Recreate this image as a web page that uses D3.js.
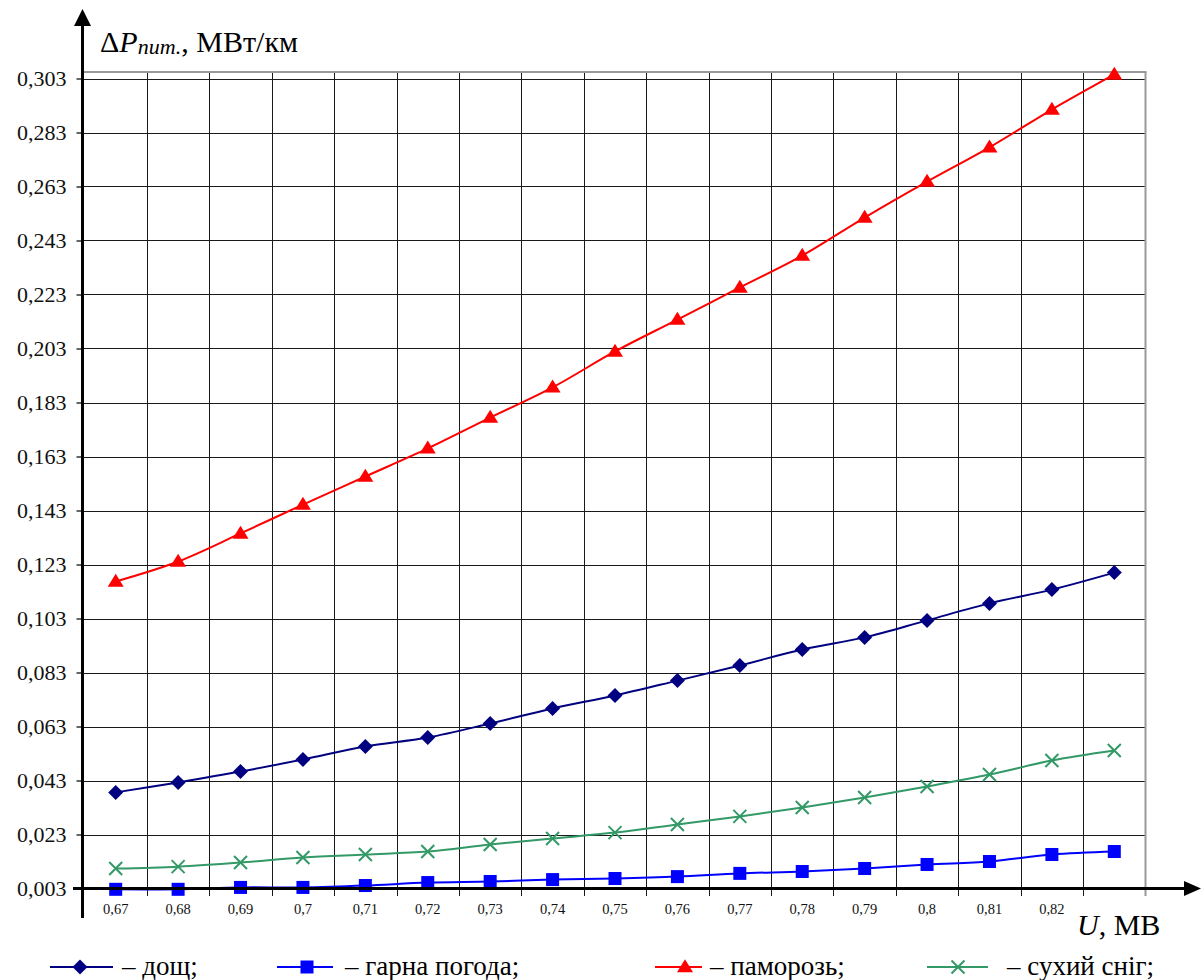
<!DOCTYPE html>
<html>
<head>
<meta charset="utf-8">
<script src="https://cdn.jsdelivr.net/npm/d3@7"></script>
<style>
  html, body { margin: 0; padding: 0; background: #fff; }
  svg { display: block; }
  svg text { font-family: "Times New Roman", Times, "Liberation Serif", Tinos, "Noto Serif", "DejaVu Serif", FreeSerif, serif !important; }
</style>
</head>
<body>
<svg id="chart" width="1201" height="980"></svg>
<script>
// Line voltage, MV (category axis)
const voltage = [0.67, 0.68, 0.69, 0.70, 0.71, 0.72, 0.73, 0.74, 0.75, 0.76, 0.77, 0.78, 0.79, 0.80, 0.81, 0.82, 0.83];
const xTickLabels = ["0,67", "0,68", "0,69", "0,7", "0,71", "0,72", "0,73", "0,74", "0,75", "0,76", "0,77", "0,78", "0,79", "0,8", "0,81", "0,82"];

// Value axis ticks, MW/km
const yTicks = [0.003, 0.023, 0.043, 0.063, 0.083, 0.103, 0.123, 0.143, 0.163, 0.183, 0.203, 0.223, 0.243, 0.263, 0.283, 0.303];
const yTickLabels = ["0,003", "0,023", "0,043", "0,063", "0,083", "0,103", "0,123", "0,143", "0,163", "0,183", "0,203", "0,223", "0,243", "0,263", "0,283", "0,303"];

// Specific corona losses per weather condition, MW/km
const rain = [0.0386, 0.0423, 0.0463, 0.0508, 0.0556, 0.0589, 0.0641, 0.0697, 0.0745, 0.0800, 0.0856, 0.0915, 0.0960, 0.1023, 0.1086, 0.1137, 0.1200];
const fairWeather = [0.0027, 0.0027, 0.0034, 0.0034, 0.0041, 0.0052, 0.0056, 0.0063, 0.0067, 0.0074, 0.0086, 0.0093, 0.0104, 0.0119, 0.0130, 0.0156, 0.0167];
const hoarFrost = [0.1167, 0.1241, 0.1345, 0.1452, 0.1556, 0.1660, 0.1774, 0.1886, 0.2019, 0.2137, 0.2256, 0.2374, 0.2515, 0.2648, 0.2775, 0.2915, 0.3045];
const drySnow = [0.0104, 0.0111, 0.0126, 0.0145, 0.0156, 0.0167, 0.0193, 0.0215, 0.0237, 0.0267, 0.0297, 0.0330, 0.0367, 0.0408, 0.0452, 0.0504, 0.0541];

const seriesNames = ["– дощ;", "– гарна погода;", "– паморозь;", "– сухий сніг;"];

const series = [
  { name: seriesNames[0], values: rain,        color: "#000080", marker: "diamond" },
  { name: seriesNames[1], values: fairWeather, color: "#0000ff", marker: "square" },
  { name: seriesNames[2], values: hoarFrost,   color: "#ff0000", marker: "triangle" },
  { name: seriesNames[3], values: drySnow,     color: "#339966", marker: "cross" }
];

const serif = "'Times New Roman', Times, 'Liberation Serif', Tinos, 'Noto Serif', 'DejaVu Serif', FreeSerif, serif";
const svg = d3.select("#chart").attr("font-family", serif);

// Plot frame
const plot = { left: 84.5, right: 1145.5, top: 72, bottom: 888.5 };
const axisX = 82.5;

const x = d3.scaleBand().domain(voltage).range([plot.left, plot.right]).padding(0);
const y = d3.scaleLinear().domain([0.003, 0.303]).range([888.5, 78.5]);

// Grid
const grid = svg.append("g");
grid.selectAll("line.h")
  .data(yTicks.slice(1))
  .join("line")
  .attr("x1", axisX).attr("x2", plot.right)
  .attr("y1", d => Math.round(y(d)) + 0.5).attr("y2", d => Math.round(y(d)) + 0.5)
  .attr("stroke", "#1a1a1a").attr("stroke-width", 1);

const boundaries = voltage.map((v, i) => plot.left + (i + 1) * x.step());
grid.selectAll("line.v")
  .data(boundaries.slice(0, -1))
  .join("line")
  .attr("x1", d => Math.round(d) + 0.5).attr("x2", d => Math.round(d) + 0.5)
  .attr("y1", plot.top).attr("y2", 896)
  .attr("stroke", "#1a1a1a").attr("stroke-width", 1);

// Grey outer frame (top and right)
grid.append("line")
  .attr("x1", axisX).attr("x2", plot.right + 1)
  .attr("y1", plot.top).attr("y2", plot.top)
  .attr("stroke", "#999").attr("stroke-width", 2);
grid.append("line")
  .attr("x1", plot.right).attr("x2", plot.right)
  .attr("y1", plot.top).attr("y2", 896)
  .attr("stroke", "#999").attr("stroke-width", 2);

// Markers
function drawMarker(g, type, color, cx, cy, scale = 1) {
  if (type === "diamond") {
    const r = 7.5 * scale;
    g.append("path")
      .attr("d", `M${cx},${cy - r}L${cx + r},${cy}L${cx},${cy + r}L${cx - r},${cy}Z`)
      .attr("fill", color);
  } else if (type === "square") {
    const s = 13 * scale;
    g.append("rect")
      .attr("x", cx - s / 2).attr("y", cy - s / 2)
      .attr("width", s).attr("height", s)
      .attr("fill", color);
  } else if (type === "triangle") {
    const w = 16 * scale, h = 13 * scale;
    g.append("path")
      .attr("d", `M${cx},${cy - h * 0.6}L${cx + w / 2},${cy + h * 0.4}L${cx - w / 2},${cy + h * 0.4}Z`)
      .attr("fill", color);
  } else if (type === "cross") {
    const r = 6.5 * scale;
    g.append("path")
      .attr("d", `M${cx - r},${cy - r}L${cx + r},${cy + r}M${cx - r},${cy + r}L${cx + r},${cy - r}`)
      .attr("stroke", color).attr("stroke-width", 2).attr("fill", "none");
  }
}

// Series lines and markers
const line = d3.line()
  .x((d, i) => x(voltage[i]) + x.bandwidth() / 2)
  .y(d => y(d))
  .curve(d3.curveCardinal.tension(0));

const seriesG = svg.append("g");
series.forEach(s => {
  seriesG.append("path")
    .datum(s.values)
    .attr("d", line)
    .attr("fill", "none")
    .attr("stroke", s.color)
    .attr("stroke-width", 2);
});
series.forEach(s => {
  const g = seriesG.append("g");
  s.values.forEach((v, i) => {
    drawMarker(g, s.marker, s.color, x(voltage[i]) + x.bandwidth() / 2, y(v));
  });
});

// Y axis: ticks and labels
const yAxis = d3.axisLeft(y)
  .tickValues(yTicks)
  .tickFormat((d, i) => yTickLabels[i])
  .tickSize(6)
  .tickPadding(10);
const yAxisG = svg.append("g")
  .attr("transform", `translate(${axisX},0)`)
  .call(yAxis)
  .attr("font-family", serif);
yAxisG.select(".domain").remove();
yAxisG.selectAll(".tick line").attr("stroke", "#000").attr("stroke-width", 1.2);
yAxisG.selectAll(".tick text")
  .attr("font-size", 22)
  .attr("fill", "#111");

// X axis: labels centred in categories
const xAxis = d3.axisBottom(x)
  .tickSize(0)
  .tickPadding(15)
  .tickFormat((d, i) => xTickLabels[i] || "");
const xAxisG = svg.append("g")
  .attr("transform", `translate(0,${y(0.003)})`)
  .call(xAxis)
  .attr("font-family", serif);
xAxisG.select(".domain").remove();
xAxisG.selectAll(".tick text")
  .attr("font-size", 14.5)
  .attr("fill", "#111");

// Axis lines with arrowheads
const axes = svg.append("g");
axes.append("line")
  .attr("x1", 73).attr("x2", 1186)
  .attr("y1", y(0.003)).attr("y2", y(0.003))
  .attr("stroke", "#000").attr("stroke-width", 3);
axes.append("path")
  .attr("d", `M1201,${y(0.003)}L1184,${y(0.003) - 7.5}L1184,${y(0.003) + 7.5}Z`)
  .attr("fill", "#000");
axes.append("line")
  .attr("x1", axisX).attr("x2", axisX)
  .attr("y1", 918).attr("y2", 24)
  .attr("stroke", "#000").attr("stroke-width", 3);
axes.append("path")
  .attr("d", `M${axisX},9L${axisX + 8.5},26L${axisX - 8.5},26Z`)
  .attr("fill", "#000");

// Axis titles
const yTitle = svg.append("text")
  .attr("x", 100).attr("y", 52)
  .attr("font-size", 30)
  .attr("fill", "#000");
yTitle.append("tspan").text("Δ");
yTitle.append("tspan").attr("font-style", "italic").text("P");
yTitle.append("tspan").attr("font-style", "italic").attr("font-size", 22).attr("dy", 2).text("пит.");
yTitle.append("tspan").attr("dy", -2).text(", МВт/км");

const xTitle = svg.append("text")
  .attr("x", 1077).attr("y", 935)
  .attr("font-size", 30)
  .attr("fill", "#000");
xTitle.append("tspan").attr("font-style", "italic").text("U");
xTitle.append("tspan").text(", МВ");

// Legend
const legendItems = [
  { x1: 50,  x2: 113, mx: 80,  tx: 122 },
  { x1: 277, x2: 333, mx: 307, tx: 345 },
  { x1: 655, x2: 702, mx: 685, tx: 710 },
  { x1: 927, x2: 988, mx: 958, tx: 1007 }
];
const legendY = 967;
const legend = svg.append("g");
series.forEach((s, i) => {
  const L = legendItems[i];
  const g = legend.append("g");
  g.append("line")
    .attr("x1", L.x1).attr("x2", L.x2)
    .attr("y1", legendY).attr("y2", legendY)
    .attr("stroke", s.color).attr("stroke-width", 2);
  drawMarker(g, s.marker, s.color, L.mx, legendY);
  g.append("text")
    .attr("x", L.tx).attr("y", legendY + 8)
    .attr("font-size", 27)
    .attr("fill", "#000")
    .text(s.name);
});
</script>
</body>
</html>
